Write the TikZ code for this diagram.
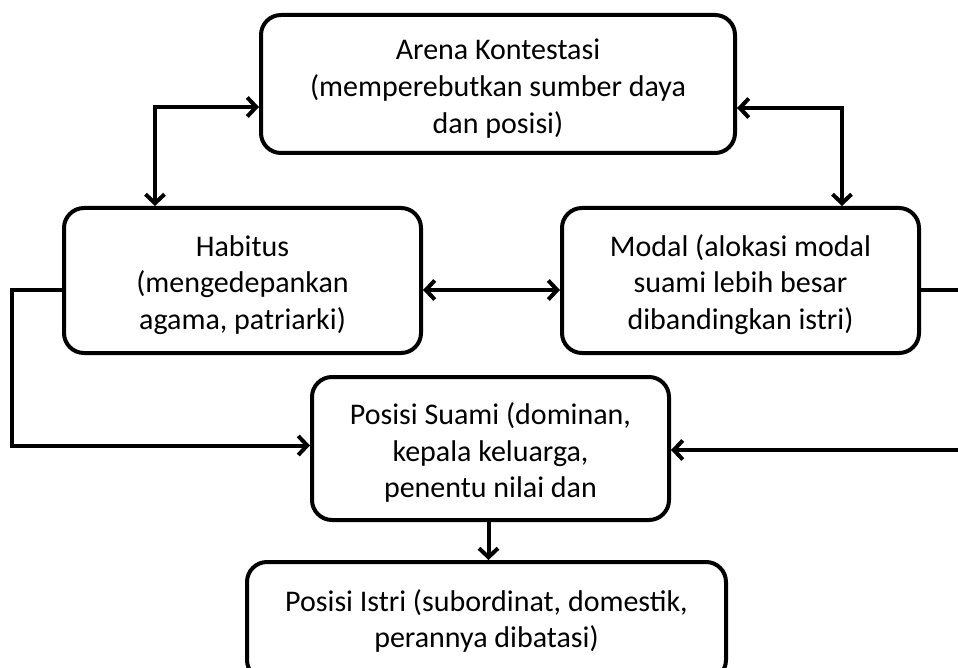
\documentclass[tikz,border=0pt]{standalone}
\usepackage{fontspec}
\setmainfont{Carlito}
\usetikzlibrary{arrows.meta}
\newcommand{\ruang}{\rule{0pt}{30pt}}

\begin{document}
\begin{tikzpicture}[x=1pt,y=-1pt,
    box/.style={draw,black,line width=4pt,rounded corners=20pt,align=center,inner sep=0pt,
        font=\fontsize{30}{36.6}\selectfont},
    arr/.style={line width=4pt,-{Straight Barb[length=9pt,width=19pt]}},
    both/.style={line width=4pt,{Straight Barb[length=9pt,width=19pt]}-{Straight Barb[length=9pt,width=19pt]}}]

    \useasboundingbox (0,0) rectangle (958,668);

    \node[box,minimum width=474pt,minimum height=138pt] (arena) at (498,84)
        {\ruang Arena Kontestasi\\(memperebutkan sumber daya\\dan posisi)};
    \node[box,minimum width=357pt,minimum height=145pt] (habitus) at (242.5,280.5)
        {\ruang Habitus\\(mengedepankan\\agama, patriarki)};
    \node[box,minimum width=357pt,minimum height=145pt] (modal) at (740.5,280.5)
        {\ruang Modal (alokasi modal\\suami lebih besar\\dibandingkan istri)};
    \node[box,minimum width=357pt,minimum height=143pt] (suami) at (490.5,448.5)
        {\ruang Posisi Suami (dominan,\\kepala keluarga,\\penentu nilai dan};
    \node[box,minimum width=479pt,minimum height=118pt] (istri) at (486.5,621)
        {Posisi Istri (subordinat, domestik,\\perannya dibatasi)};

    \coordinate (kanan1) at (958,290);
    \coordinate (kanan2) at (958,450);

    \draw[both] ([yshift=-23pt]arena.west) -| ([xshift=93pt]habitus.north west);
    \draw[both] ([yshift=-24pt]arena.east) -| ([xshift=-79pt]modal.north east);
    \draw[both] ([yshift=-9.5pt]habitus.east) -- ([yshift=-9.5pt]modal.west);

    \draw[arr] ([yshift=-9.5pt]habitus.west) -- ++(-50,0) |- ([yshift=3pt]suami.west);
    \draw[line width=4pt] ([yshift=-9.5pt]modal.east) -- (kanan1);
    \draw[arr] (kanan2) -- (suami.east |- kanan2);

    \draw[arr] ([xshift=-2pt]suami.south) -- ([xshift=-2pt]suami.south |- istri.north);

\end{tikzpicture}
\end{document}
